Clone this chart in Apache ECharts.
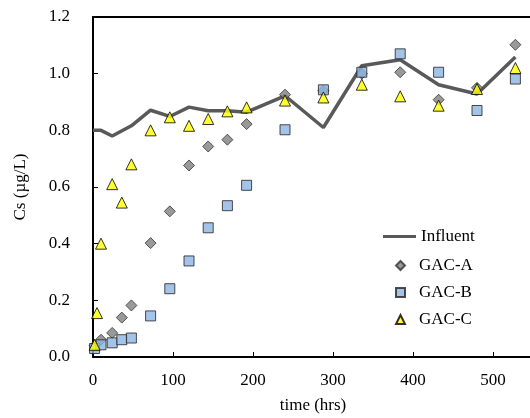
<!DOCTYPE html>
<html>
<head>
<meta charset="utf-8">
<script src="https://cdn.jsdelivr.net/npm/echarts@6/dist/echarts.min.js"></script>
<style>
  html, body { margin: 0; padding: 0; background: #fff; }
  #chart { width: 530px; height: 418px; }
</style>
</head>
<body>
<div id="chart"></div>
<script>
// influent concentration (line)
const influentTime = [0, 10, 24, 48, 72, 96, 120, 144, 168, 192, 240, 288, 336, 384, 432, 480, 528];
const influentCs   = [0.80, 0.80, 0.78, 0.816, 0.871, 0.849, 0.882, 0.869, 0.869, 0.864, 0.922, 0.81, 1.028, 1.049, 0.961, 0.928, 1.059];

// effluent samples
const gacATime = [2, 10, 24, 36, 48, 72, 96, 120, 144, 168, 192, 240, 288, 336, 384, 432, 480, 528];
const gacACs   = [0.04, 0.061, 0.085, 0.139, 0.182, 0.402, 0.514, 0.676, 0.743, 0.767, 0.822, 0.926, 0.94, 1.0, 1.005, 0.908, 0.95, 1.102];

const gacBTime = [2, 10, 24, 36, 48, 72, 96, 120, 144, 168, 192, 240, 288, 336, 384, 432, 480, 528];
const gacBCs   = [0.03, 0.043, 0.05, 0.061, 0.067, 0.145, 0.241, 0.339, 0.456, 0.534, 0.606, 0.802, 0.943, 1.005, 1.07, 1.005, 0.87, 0.981];

const gacCTime = [2, 5, 10, 24, 36, 48, 72, 96, 120, 144, 168, 192, 240, 288, 336, 384, 432, 480, 528];
const gacCCs   = [0.043, 0.155, 0.40, 0.61, 0.545, 0.68, 0.80, 0.846, 0.816, 0.84, 0.867, 0.881, 0.905, 0.916, 0.961, 0.92, 0.887, 0.946, 1.02];

const pairs = (xs, ys) => xs.map((x, i) => [x, ys[i]]);

const font = 'Liberation Serif, Times New Roman, serif';
const legendText = { fontFamily: font, fontSize: 17, color: '#000', lineHeight: 17 };
const chart = echarts.init(document.getElementById('chart'));

chart.setOption({
    animation: false,
    grid: { left: 93, right: -3, top: 17, bottom: 61, outerBoundsMode: 'none', containLabel: false },
    legend: [{
        // line entry
        left: 378,
        top: 223,
        itemWidth: 33,
        itemHeight: 3,
        textStyle: legendText,
        data: [{ name: 'Influent', icon: 'rect' }]
    }, {
        // marker entries
        orient: 'vertical',
        left: 390,
        top: 252,
        itemWidth: 9,
        itemHeight: 9,
        itemGap: 10,
        textStyle: Object.assign({}, legendText, { padding: [0, 0, 0, 9] }),
        data: ['GAC-A', 'GAC-B', 'GAC-C']
    }],
    xAxis: [{
        type: 'value',
        min: 0,
        max: 550,
        interval: 100,
        name: 'time (hrs)',
        nameLocation: 'middle',
        nameGap: 40,
        nameTextStyle: { fontFamily: font, fontSize: 17, color: '#000' },
        axisLine: { show: true, lineStyle: { color: '#000', width: 2 } },
        axisTick: { show: true, inside: true, length: 5, lineStyle: { color: '#000', width: 1 } },
        axisLabel: {
            fontFamily: font, fontSize: 17, color: '#000', margin: 15,
            formatter: v => (v % 100 === 0 ? String(v) : '')
        },
        splitLine: { show: false }
    }, {
        type: 'value',
        position: 'top',
        min: 0,
        max: 550,
        axisLine: { show: true, lineStyle: { color: '#000', width: 2 } },
        axisTick: { show: false },
        axisLabel: { show: false },
        splitLine: { show: false }
    }],
    yAxis: {
        type: 'value',
        min: 0,
        max: 1.2,
        interval: 0.2,
        name: 'Cs (µg/L)',
        nameLocation: 'middle',
        nameGap: 64,
        nameTextStyle: { fontFamily: font, fontSize: 17, color: '#000' },
        axisLine: { show: true, lineStyle: { color: '#000', width: 2 } },
        axisTick: { show: true, inside: true, length: 5, lineStyle: { color: '#000', width: 1 } },
        axisLabel: {
            fontFamily: font, fontSize: 17, color: '#000', margin: 23,
            formatter: v => v.toFixed(1)
        },
        splitLine: { show: false }
    },
    series: [
        {
            name: 'Influent',
            type: 'line',
            data: pairs(influentTime, influentCs),
            symbol: 'none',
            lineStyle: { color: '#595959', width: 3.5 },
            itemStyle: { color: '#595959' },
            z: 2
        },
        {
            name: 'GAC-A',
            type: 'scatter',
            data: pairs(gacATime, gacACs),
            symbol: 'diamond',
            symbolSize: 11,
            itemStyle: { color: '#7f7f7f', borderColor: '#333', borderWidth: 1 },
            z: 3
        },
        {
            name: 'GAC-B',
            type: 'scatter',
            data: pairs(gacBTime, gacBCs),
            symbol: 'rect',
            symbolSize: 10,
            itemStyle: { color: '#8db4e2', borderColor: '#222', borderWidth: 1 },
            z: 4
        },
        {
            name: 'GAC-C',
            type: 'scatter',
            data: pairs(gacCTime, gacCCs),
            symbol: 'triangle',
            symbolSize: 11,
            itemStyle: { color: '#ffff00', borderColor: '#000', borderWidth: 1 },
            z: 5
        }
    ]
});
</script>
</body>
</html>
